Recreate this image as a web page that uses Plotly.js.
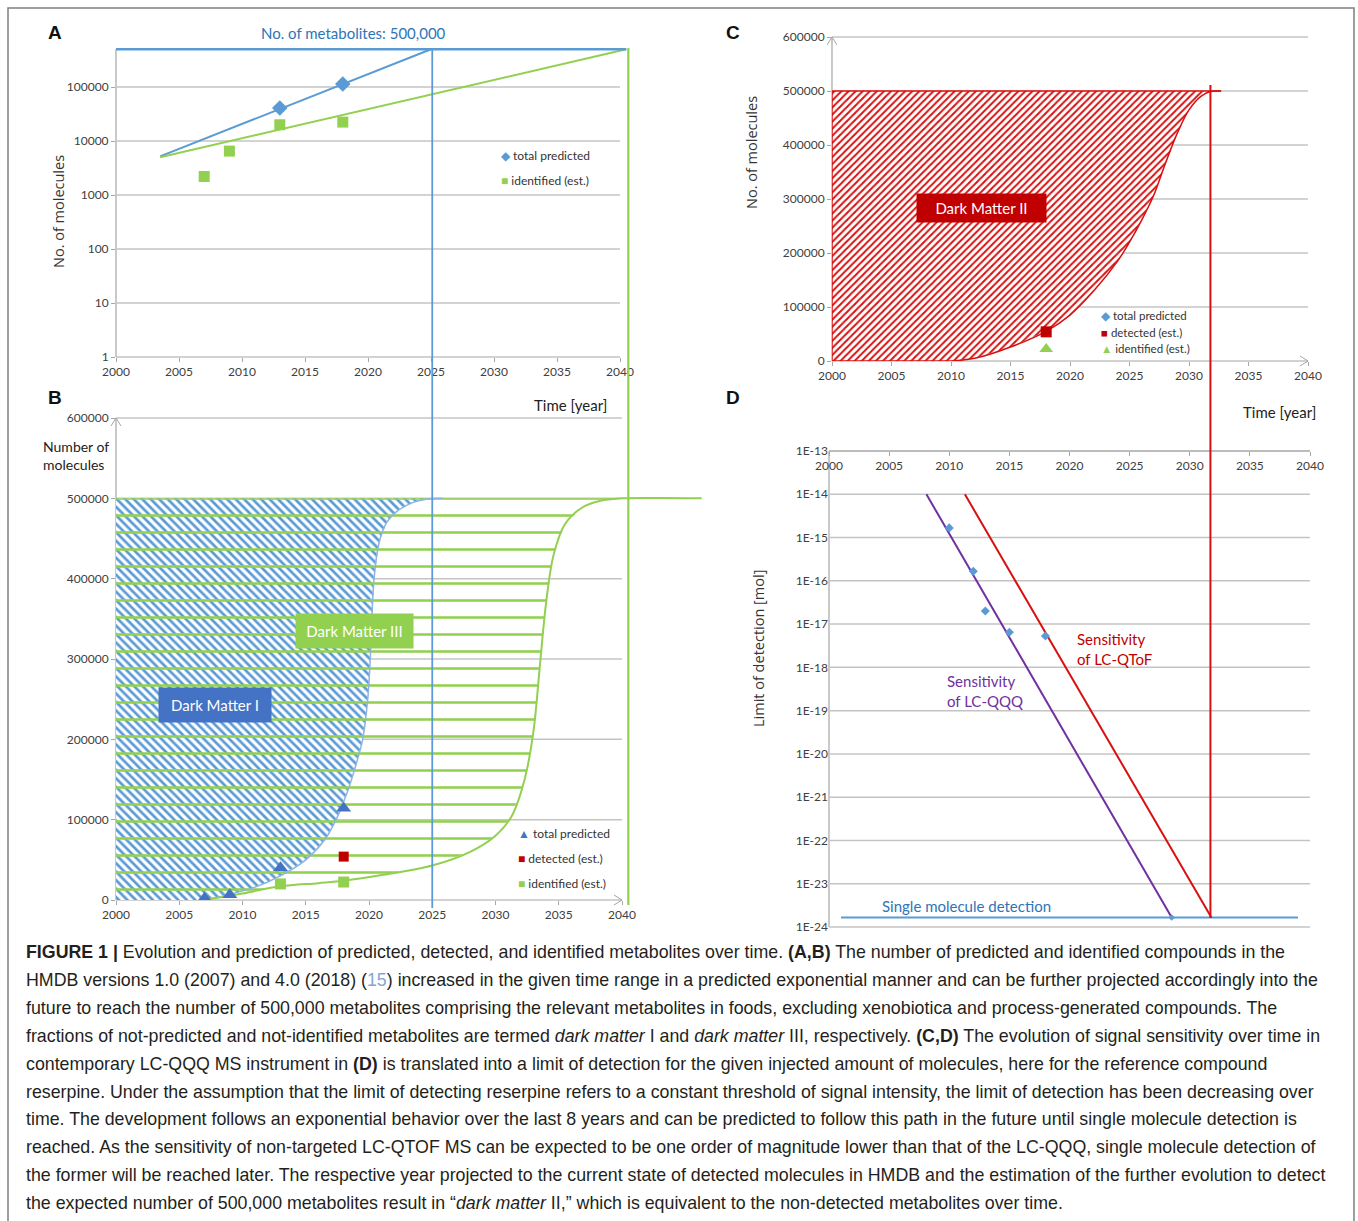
<!DOCTYPE html>
<html><head><meta charset="utf-8">
<script src="https://cdn.plot.ly/plotly-3.0.1.min.js"></script>
<style>html,body{margin:0;padding:0;background:#fff}#chart{width:1358px;height:1221px}</style>
</head><body><div id="chart"></div>
<script>
// ---------------- DATA ----------------
const yearTicks = [2000, 2005, 2010, 2015, 2020, 2025, 2030, 2035, 2040];
const logTicksA = [1, 10, 100, 1000, 10000, 100000];
const linTicks = [0, 100000, 200000, 300000, 400000, 500000, 600000];
const lodTicks = [1e-13, 1e-14, 1e-15, 1e-16, 1e-17, 1e-18, 1e-19, 1e-20, 1e-21, 1e-22, 1e-23, 1e-24];
const lodTickText = ['1E-13', '1E-14', '1E-15', '1E-16', '1E-17', '1E-18', '1E-19', '1E-20', '1E-21', '1E-22', '1E-23', '1E-24'];

const targetMetabolites = 500000;
const yearAllPredicted = 2025;      // blue projection reaches 500,000
const yearAllIdentified = 2040.5;   // green projection reaches 500,000
const yearAllDetected = 2031.8;     // red projection reaches 500,000

// Panel A
const predYearsA = [2013, 2018];
const predValsA = [40800, 114000];
const identYearsA = [2007, 2009, 2013, 2018];
const identValsA = [2200, 6500, 20000, 22400];
const predTrendX = [2003.5, 2025];
const predTrendY = [5200, 500000];
const identTrendX = [2003.5, 2040.5];
const identTrendY = [5000, 500000];

// Panel B
const predYearsB = [2007, 2009, 2013, 2018];
const predValsB = [2180, 6408, 40153, 114100];
const detYears = [2018];
const detVals = [54000];
const identYearsB = [2013, 2018];
const identValsB = [20000, 22400];
const darkIX = [2007, 2009, 2011, 2013, 2015, 2016.5, 2017.4, 2018.3, 2019, 2019.5, 2019.9, 2020.1, 2020.4, 2020.8, 2021.4, 2022.3, 2023.5, 2024.8, 2025.8];
const darkIY = [0, 7000, 16000, 30000, 50000, 75000, 100000, 135000, 170000, 200000, 250000, 300000, 400000, 445000, 470000, 485000, 495000, 499500, 500000];
const darkIIIX = [2007, 2010, 2013, 2016, 2018, 2021, 2025, 2028, 2030, 2031.3, 2032.3, 2033, 2033.5, 2034, 2034.6, 2035.5, 2036.8, 2038.3, 2040, 2043, 2046.3];
const darkIIIY = [0, 8000, 17000, 21000, 24000, 31000, 43000, 60000, 80000, 105000, 150000, 210000, 290000, 370000, 430000, 468000, 488000, 497000, 500000, 500500, 500000];

// Panel C
const detYearsC = [2018];
const detValsC = [54000];
const identYearsC = [2018];
const identValsC = [22000];
const darkIIX = [2010, 2012, 2015, 2018, 2020, 2022, 2024, 2025, 2026, 2027, 2028, 2029, 2030, 2031, 2031.8, 2032.7];
const darkIIY = [0, 5000, 26000, 55000, 85000, 130000, 185000, 220000, 260000, 305000, 365000, 421000, 465000, 490000, 499000, 500000];

// Panel D
const lodYears = [2010, 2012, 2013, 2015, 2018];
const lodVals = [1.67e-15, 1.67e-16, 2.0e-17, 6.5e-18, 5.3e-18];
const qqqX = [2008.1, 2028.5];
const qqqY = [1e-14, 1.66e-24];
const qtofX = [2011.3, 2031.8];
const qtofY = [1e-14, 1.66e-24];
const singleX = [2001, 2039];
const singleY = [1.66e-24, 1.66e-24];
const singleHitX = [2028.5];
const singleHitY = [1.66e-24];

const captionLines = [
  '<b>FIGURE 1 |</b> Evolution and prediction of predicted, detected, and identified metabolites over time. <b>(A,B)</b> The number of predicted and identified compounds in the',
  'HMDB versions 1.0 (2007) and 4.0 (2018) (<span style="color:#7FA7D3">15</span>) increased in the given time range in a predicted exponential manner and can be further projected accordingly into the',
  'future to reach the number of 500,000 metabolites comprising the relevant metabolites in foods, excluding xenobiotica and process-generated compounds. The',
  'fractions of not-predicted and not-identified metabolites are termed <i>dark matter</i> I and <i>dark matter</i> III, respectively. <b>(C,D)</b> The evolution of signal sensitivity over time in',
  'contemporary LC-QQQ MS instrument in <b>(D)</b> is translated into a limit of detection for the given injected amount of molecules, here for the reference compound',
  'reserpine. Under the assumption that the limit of detecting reserpine refers to a constant threshold of signal intensity, the limit of detection has been decreasing over',
  'time. The development follows an exponential behavior over the last 8 years and can be predicted to follow this path in the future until single molecule detection is',
  'reached. As the sensitivity of non-targeted LC-QTOF MS can be expected to be one order of magnitude lower than that of the LC-QQQ, single molecule detection of',
  'the former will be reached later. The respective year projected to the current state of detected molecules in HMDB and the estimation of the further evolution to detect',
  'the expected number of 500,000 metabolites result in \u201C<i>dark matter</i> II,\u201D which is equivalent to the non-detected metabolites over time.'
];

// ---------------- STYLE / LAYOUT ----------------
const W = 1358, H = 1221;
const X = p => p / W;
const Y = p => 1 - p / H;
const BLUE = '#5B9BD5', BLUE_D = '#2E75B6', GREEN = '#92D050', RED = '#C00000', RED_L = '#D81010', PURPLE = '#7030A0';
const GRID = '#C4C4C4', AX = '#A6A6A6', TXT = '#404040';
const FONT = 'Lato, "Open Sans", sans-serif';

function sc(x, y, xa, ya, extra) {
  return Object.assign({x: x, y: y, xaxis: xa, yaxis: ya, type: 'scatter', hoverinfo: 'skip'}, extra);
}
const traces = [];
// Panel A
traces.push(sc(predTrendX, predTrendY, 'x', 'y', {mode: 'lines', line: {color: BLUE, width: 2}}));
traces.push(sc(identTrendX, identTrendY, 'x', 'y', {mode: 'lines', line: {color: GREEN, width: 2}}));
traces.push(sc(predYearsA, predValsA, 'x', 'y', {mode: 'markers', marker: {symbol: 'diamond', size: 12, color: BLUE}}));
traces.push(sc(identYearsA, identValsA, 'x', 'y', {mode: 'markers', marker: {symbol: 'square', size: 11, color: GREEN}}));
// Panel B
traces.push(sc([2000].concat(darkIX, [2000, 2000]), [0].concat(darkIY, [500000, 0]), 'x2', 'y2', {
  mode: 'lines', line: {width: 0, color: 'rgba(0,0,0,0)'}, fill: 'toself', fillcolor: 'rgba(0,0,0,0)',
  fillpattern: {shape: '\\', fgcolor: BLUE, bgcolor: '#FFFFFF', size: 6, solidity: 0.45}}));
const nIII = darkIIIX.filter(v => v <= 2040).length;
traces.push(sc([2000].concat(darkIIIX.slice(0, nIII), [2000, 2000]), [0].concat(darkIIIY.slice(0, nIII), [500000, 0]), 'x2', 'y2', {
  mode: 'lines', line: {width: 0, color: 'rgba(0,0,0,0)'}, fill: 'toself', fillcolor: 'rgba(0,0,0,0)',
  fillpattern: {shape: '-', fgcolor: GREEN, bgcolor: 'rgba(0,0,0,0)', size: 17, solidity: 0.15}}));
traces.push(sc(darkIX, darkIY, 'x2', 'y2', {mode: 'lines', line: {color: '#8DB4E2', width: 1.5, shape: 'spline'}}));
traces.push(sc(darkIIIX, darkIIIY, 'x2', 'y2', {mode: 'lines', line: {color: GREEN, width: 2, shape: 'spline'}}));
traces.push(sc(predYearsB, predValsB, 'x2', 'y2', {mode: 'markers', marker: {symbol: 'triangle-up', size: 13, color: '#4472C4'}}));
traces.push(sc(detYears, detVals, 'x2', 'y2', {mode: 'markers', marker: {symbol: 'square', size: 10, color: RED}}));
traces.push(sc(identYearsB, identValsB, 'x2', 'y2', {mode: 'markers', marker: {symbol: 'square', size: 11, color: GREEN}}));
// Panel C
traces.push(sc([2000].concat(darkIIX, [2000, 2000]), [0].concat(darkIIY, [500000, 0]), 'x3', 'y3', {
  mode: 'lines', line: {width: 0, color: 'rgba(0,0,0,0)'}, fill: 'toself', fillcolor: 'rgba(0,0,0,0)',
  fillpattern: {shape: '/', fgcolor: RED_L, bgcolor: '#FFFFFF', size: 5, solidity: 0.4}}));
traces.push(sc(darkIIX, darkIIY, 'x3', 'y3', {mode: 'lines', line: {color: RED_L, width: 1.5, shape: 'spline'}}));
traces.push(sc([darkIIX[0], 2000, 2000], [0, 0, targetMetabolites], 'x3', 'y3', {mode: 'lines', line: {color: RED_L, width: 1.5}}));
traces.push(sc(detYearsC, detValsC, 'x3', 'y3', {mode: 'markers', marker: {symbol: 'square', size: 11, color: RED}}));
traces.push(sc(identYearsC, identValsC, 'x3', 'y3', {mode: 'markers', marker: {symbol: 'triangle-up', size: 12, color: GREEN}}));
// Panel D
traces.push(sc(singleX, singleY, 'x4', 'y4', {mode: 'lines', line: {color: BLUE, width: 2}}));
traces.push(sc(qqqX, qqqY, 'x4', 'y4', {mode: 'lines', line: {color: PURPLE, width: 2}}));
traces.push(sc(qtofX, qtofY, 'x4', 'y4', {mode: 'lines', line: {color: RED_L, width: 2}}));
traces.push(sc(lodYears, lodVals, 'x4', 'y4', {mode: 'markers', marker: {symbol: 'diamond', size: 7, color: BLUE}}));
traces.push(sc(singleHitX, singleHitY, 'x4', 'y4', {mode: 'markers', marker: {symbol: 'diamond', size: 5, color: BLUE}}));

// ---------------- SHAPES ----------------
const shapes = [];
function line(xref, yref, x0, y0, x1, y1, color, width) {
  shapes.push({type: 'line', xref: xref, yref: yref, x0: x0, y0: y0, x1: x1, y1: y1, line: {color: color, width: width}, layer: 'below'});
}
function arrowRight(xref, yref, xa, ya) {
  shapes.push({type: 'path', xref: xref, yref: yref, xsizemode: 'pixel', ysizemode: 'pixel', xanchor: xa, yanchor: ya,
    path: 'M-8,-5L0,0L-8,5', line: {color: AX, width: 1}});
}
function arrowUp(xref, yref, xa, ya) {
  shapes.push({type: 'path', xref: xref, yref: yref, xsizemode: 'pixel', ysizemode: 'pixel', xanchor: xa, yanchor: ya,
    path: 'M-5,-8L0,0L5,-8', line: {color: AX, width: 1}});
}
// A grid + axes
logTicksA.slice(1).forEach(v => line('x', 'y', 2000, v, 2040, v, GRID, 1.5));
line('x', 'y domain', 2000, 0, 2040, 0, AX, 1.2);
line('x domain', 'y', 0, 1, 0, targetMetabolites, AX, 1.2);
// B grid + axes
linTicks.slice(1).forEach(v => line('x2', 'y2', 2000, v, 2040, v, GRID, 1.5));
line('x2', 'y2 domain', 2000, 0, 2040, 0, AX, 1.2);
line('x2 domain', 'y2', 0, 0, 0, 600000, AX, 1.2);
arrowRight('x2', 'y2 domain', 2040, 0);
arrowUp('x2 domain', 'y2', 0, 600000);
// C grid + axes
linTicks.slice(1).forEach(v => line('x3', 'y3', 2000, v, 2040, v, GRID, 1.5));
line('x3', 'y3 domain', 2000, 0, 2040, 0, AX, 1.2);
line('x3 domain', 'y3', 0, 0, 0, 600000, AX, 1.2);
arrowRight('x3', 'y3 domain', 2040, 0);
arrowUp('x3 domain', 'y3', 0, 600000);
// D grid + axes
lodTicks.slice(1).forEach(v => line('x4', 'y4', 2000, v, 2040, v, GRID, 1.5));
line('x4', 'y4', 2000, 1e-13, 2040, 1e-13, AX, 1.5);
line('x4 domain', 'y4', 0, 1e-24, 0, 1e-13, AX, 1.2);
// projection lines
shapes.push({type: 'line', xref: 'x', yref: 'y', x0: 2000, x1: yearAllIdentified, y0: targetMetabolites, y1: targetMetabolites, line: {color: BLUE, width: 2.5}});
shapes.push({type: 'line', xref: 'x2', yref: 'paper', x0: yearAllPredicted, x1: yearAllPredicted, y0: Y(908), y1: Y(48), line: {color: BLUE, width: 1.8}});
shapes.push({type: 'line', xref: 'x2', yref: 'paper', x0: yearAllIdentified, x1: yearAllIdentified, y0: Y(905), y1: Y(48), line: {color: GREEN, width: 2.2}});
shapes.push({type: 'line', xref: 'x3', yref: 'y3', x0: 2000, x1: 2032.7, y0: targetMetabolites, y1: targetMetabolites, line: {color: RED_L, width: 1.5}});
shapes.push({type: 'line', xref: 'x3', yref: 'paper', x0: yearAllDetected, x1: yearAllDetected, y0: Y(918), y1: Y(85), line: {color: RED_L, width: 2}});
// figure frame
shapes.push({type: 'rect', xref: 'paper', yref: 'paper', x0: X(8), x1: X(1354), y0: Y(1230), y1: Y(8), line: {color: '#7F7F7F', width: 1.5}});

// ---------------- ANNOTATIONS ----------------
const annotations = [];
function ann(text, x, y, o) {
  annotations.push(Object.assign({xref: 'paper', yref: 'paper', x: X(x), y: Y(y), text: text, showarrow: false,
    xanchor: 'center', yanchor: 'middle', font: {family: FONT, size: 14, color: '#222'}}, o || {}));
}
const LETTER = {family: '"Liberation Sans", Arial, sans-serif', size: 19, color: '#111'};
ann('<b>A</b>', 55, 33, {font: LETTER});
ann('<b>B</b>', 55, 398, {font: LETTER});
ann('<b>C</b>', 733, 33, {font: LETTER});
ann('<b>D</b>', 733, 398, {font: LETTER});
ann('No. of metabolites: 500,000', 353, 33, {font: {family: FONT, size: 15, color: BLUE_D}});
const AXT = {family: '"Open Sans", sans-serif', size: 14.5, color: '#333'};
ann('No. of molecules', 58, 212, {textangle: -90, font: AXT});
ann('No. of molecules', 752, 153, {textangle: -90, font: AXT});
ann('Limit of detection [mol]', 758, 649, {textangle: -90, font: AXT});
ann('Number of<br>molecules', 41, 455, {xanchor: 'left', align: 'left', font: {family: FONT, size: 14, color: '#222'}});
ann('Time [year]', 570, 405, {font: {family: FONT, size: 15, color: '#222'}});
ann('Time [year]', 1279, 412, {font: {family: FONT, size: 15, color: '#222'}});
const LEG = {family: FONT, size: 12, color: '#333'};
ann('<span style="color:' + BLUE + '">\u25C6</span> total predicted', 499, 156, {xanchor: 'left', font: LEG});
ann('<span style="color:' + GREEN + '">\u25A0</span> identified (est.)', 499, 180, {xanchor: 'left', font: LEG});
ann('<span style="color:#4472C4">\u25B2</span> total predicted', 516, 833, {xanchor: 'left', font: LEG});
ann('<span style="color:' + RED + '">\u25A0</span> detected (est.)', 516, 858, {xanchor: 'left', font: LEG});
ann('<span style="color:' + GREEN + '">\u25A0</span> identified (est.)', 516, 883, {xanchor: 'left', font: LEG});
const LEGC = {family: FONT, size: 11.5, color: '#333'};
ann('<span style="color:' + BLUE + '">\u25C6</span> total predicted', 1099, 316, {xanchor: 'left', font: LEGC});
ann('<span style="color:' + RED + '">\u25A0</span> detected (est.)', 1099, 332, {xanchor: 'left', font: LEGC});
ann('<span style="color:' + GREEN + '">\u25B2</span> identified (est.)', 1099, 348, {xanchor: 'left', font: LEGC});
ann('Dark Matter I', 215, 705, {bgcolor: '#4472C4', width: 104, height: 26, borderpad: 4, font: {family: FONT, size: 15, color: '#fff'}});
ann('Dark Matter III', 354.5, 631, {bgcolor: GREEN, width: 109, height: 26, borderpad: 4, font: {family: FONT, size: 15, color: '#fff'}});
ann('Dark Matter II', 981.5, 208, {bgcolor: RED, width: 121, height: 20, borderpad: 4, font: {family: FONT, size: 15, color: '#fff'}});
ann('Sensitivity<br>of LC-QToF', 1075, 649, {xanchor: 'left', align: 'left', font: {family: FONT, size: 15, color: RED}});
ann('Sensitivity<br>of LC-QQQ', 945, 691, {xanchor: 'left', align: 'left', font: {family: FONT, size: 15, color: PURPLE}});
ann('Single molecule detection', 880, 906, {xanchor: 'left', font: {family: FONT, size: 15, color: BLUE_D}});
captionLines.forEach((t, i) => ann(t, 24, 952 + i * 27.9, {xanchor: 'left', font: {family: '"Liberation Sans", Arial, sans-serif', size: 17.8, color: '#231F20'}}));

// ---------------- AXES ----------------
const tickFont = {family: FONT, size: 12, color: TXT};
function xa(domain, range, extra) {
  return Object.assign({domain: domain, range: range, tickvals: yearTicks, ticktext: yearTicks.map(String), showgrid: false, zeroline: false,
    showline: false, ticks: 'outside', ticklen: 4, tickcolor: AX, tickfont: tickFont, fixedrange: true}, extra);
}
function ya(domain, range, tv, tt, extra) {
  return Object.assign({domain: domain, range: range, tickvals: tv, ticktext: tt, showgrid: false, zeroline: false,
    showline: false, ticks: 'outside', ticklen: 4, tickcolor: AX, tickfont: tickFont, fixedrange: true}, extra);
}
const layout = {
  width: W, height: H, margin: {l: 0, r: 0, t: 0, b: 0}, showlegend: false,
  paper_bgcolor: '#fff', plot_bgcolor: 'rgba(0,0,0,0)', font: {family: FONT},
  xaxis: xa([X(116), X(632)], [2000, 2000 + (632 - 116) / 12.6], {anchor: 'y'}),
  yaxis: ya([Y(357), Y(44)], [0, (357 - 44) / 54], logTicksA, logTicksA.map(String), {type: 'log', anchor: 'x'}),
  xaxis2: xa([X(116), X(705)], [2000, 2000 + (705 - 116) / 12.65], {anchor: 'y2'}),
  yaxis2: ya([Y(900), Y(405)], [0, 600000 * (900 - 405) / (900 - 418)], linTicks, linTicks.map(String), {anchor: 'x2'}),
  xaxis3: xa([X(832), X(1320)], [2000, 2000 + (1320 - 832) / 11.9], {anchor: 'y3'}),
  yaxis3: ya([Y(361), Y(30)], [0, 600000 * (361 - 30) / (361 - 37)], linTicks, linTicks.map(String), {anchor: 'x3'}),
  xaxis4: xa([X(829), X(1310)], [2000, 2040], {anchor: 'free', position: Y(451), side: 'bottom'}),
  yaxis4: ya([Y(931), Y(447)], [-24 - 4 / 43.27, -13 + 4 / 43.27], lodTicks, lodTickText, {type: 'log', anchor: 'x4', ticks: ''}),
  shapes: shapes, annotations: annotations
};
Plotly.newPlot('chart', traces, layout, {staticPlot: true, displayModeBar: false});
</script></body></html>
